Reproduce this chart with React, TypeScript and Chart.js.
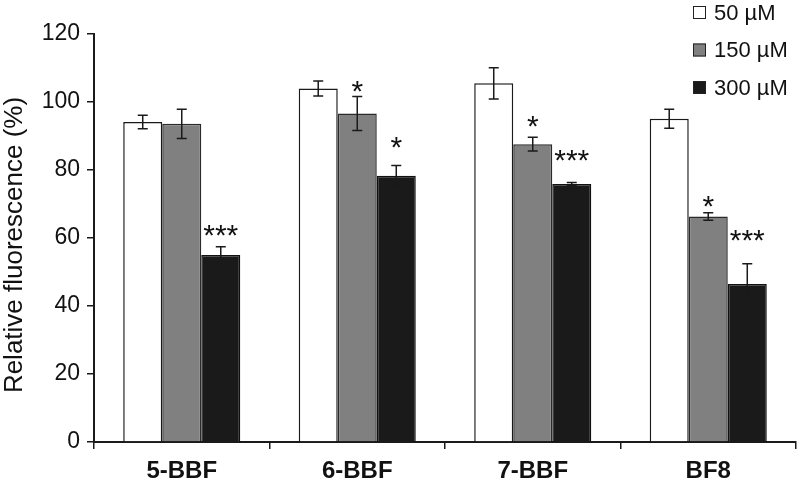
import React, { useEffect, useRef } from "react";
import { Chart, registerables } from "chart.js";

Chart.register(...registerables);

const categories = ["5-BBF", "6-BBF", "7-BBF", "BF8"];
const seriesNames = ["50 µM", "150 µM", "300 µM"];
const yTitle = "Relative fluorescence (%)";
const values50 = [94.1, 104.0, 105.5, 95.1];
const errors50 = [2.0, 2.2, 4.6, 2.8];
const values150 = [93.6, 96.6, 87.6, 66.3];
const errors150 = [4.3, 5.0, 2.0, 1.1];
const values300 = [55.0, 78.3, 75.9, 46.5];
const errors300 = [2.4, 3.0, 0.4, 5.9];
const sig50 = ["", "", "", ""];
const sigPos50: (number | null)[] = [null, null, null, null];
const sig150 = ["", "*", "*", "*"];
const sigPos150: (number | null)[] = [null, 105.2, 95.1, 71.6];
const sig300 = ["***", "*", "***", "***"];
const sigPos300: (number | null)[] = [63.0, 88.9, 84.9, 61.6];
const yTicks = [0, 20, 40, 60, 80, 100, 120];

const FONT = "'Liberation Sans', Arial, Helvetica, sans-serif";
const fills = ["#ffffff", "#808080", "#1a1a1a"];
const borders = ["#1a1a1a", "#2a2a2a", "#111111"];

const errorsAll = [errors50, errors150, errors300];
const sigAll = [sig50, sig150, sig300];
const sigPosAll = [sigPos50, sigPos150, sigPos300];

const overlayPlugin = {
  id: "overlay",
  afterDatasetsDraw(chart: any) {
    const ctx = chart.ctx;
    const yScale = chart.scales.y;
    ctx.save();
    chart.data.datasets.forEach((ds: any, di: number) => {
      const meta = chart.getDatasetMeta(di);
      meta.data.forEach((bar: any, i: number) => {
        const v = ds.data[i];
        const e = errorsAll[di][i];
        const yTop = yScale.getPixelForValue(v + e);
        const yBot = yScale.getPixelForValue(v - e);
        ctx.strokeStyle = "#1a1a1a";
        ctx.lineWidth = 1.5;
        ctx.beginPath();
        ctx.moveTo(bar.x, yTop);
        ctx.lineTo(bar.x, yBot);
        ctx.moveTo(bar.x - 5, yTop);
        ctx.lineTo(bar.x + 5, yTop);
        ctx.moveTo(bar.x - 5, yBot);
        ctx.lineTo(bar.x + 5, yBot);
        ctx.stroke();
      });
    });
    ctx.fillStyle = "#111";
    ctx.font = `30px ${FONT}`;
    ctx.textAlign = "center";
    ctx.textBaseline = "alphabetic";
    chart.data.datasets.forEach((ds: any, di: number) => {
      const meta = chart.getDatasetMeta(di);
      meta.data.forEach((bar: any, i: number) => {
        const s = sigAll[di][i];
        const p = sigPosAll[di][i];
        if (!s || p == null) return;
        const cy = yScale.getPixelForValue(p);
        ctx.fillText(s, bar.x, cy + 17);
      });
    });
    ctx.restore();
  },
  afterDraw(chart: any) {
    const ctx = chart.ctx;
    const w = chart.width;
    const area = chart.chartArea;
    ctx.save();
    // y-axis title
    ctx.save();
    ctx.translate(15, (area.top + area.bottom) / 2 + 7);
    ctx.rotate(-Math.PI / 2);
    ctx.font = `26px ${FONT}`;
    ctx.fillStyle = "#111";
    ctx.textAlign = "center";
    ctx.textBaseline = "middle";
    ctx.fillText(yTitle, 0, 0);
    ctx.restore();
    // legend
    const boxX = w - 107;
    const textX = w - 86;
    const centers = [12.5, 50, 87.5];
    ctx.font = `22px ${FONT}`;
    ctx.textAlign = "left";
    ctx.textBaseline = "middle";
    seriesNames.forEach((name, i) => {
      const cy = centers[i];
      ctx.fillStyle = fills[i];
      ctx.fillRect(boxX, cy - 6.5, 13, 13);
      ctx.strokeStyle = "#222";
      ctx.lineWidth = 1;
      ctx.strokeRect(boxX + 0.5, cy - 6, 12, 12);
      ctx.fillStyle = "#111";
      ctx.fillText(name, textX, cy + 1);
    });
    ctx.restore();
  },
};

export default function App() {
  const ref = useRef<HTMLCanvasElement | null>(null);
  useEffect(() => {
    if (!ref.current) return;
    const datasets = [values50, values150, values300].map((vals, i) => ({
      label: seriesNames[i],
      data: vals,
      backgroundColor: fills[i],
      borderColor: borders[i],
      borderWidth: 1.5,
      categoryPercentage: 0.667,
      barPercentage: 1.0,
    }));
    const chart = new Chart(ref.current, {
      type: "bar",
      data: { labels: categories, datasets },
      options: {
        animation: false,
        responsive: false,
        devicePixelRatio: 1,
        layout: { padding: { top: 34, right: 4, bottom: 0, left: 0 } },
        plugins: { legend: { display: false }, tooltip: { enabled: false } },
        scales: {
          x: {
            grid: {
              display: true,
              drawOnChartArea: false,
              drawTicks: true,
              tickLength: 7,
              color: "#1a1a1a",
              lineWidth: 1.5,
              offset: true,
            },
            border: { display: true, color: "#1a1a1a", width: 2 },
            ticks: {
              color: "#111",
              font: { family: FONT, size: 24, weight: "bold" },
              padding: 8,
            },
            afterFit: (s: any) => {
              s.height = 40;
            },
          },
          y: {
            min: 0,
            max: 120,
            afterBuildTicks: (s: any) => {
              s.ticks = yTicks.map((v) => ({ value: v }));
            },
            grid: {
              display: true,
              drawOnChartArea: false,
              drawTicks: true,
              tickLength: 7,
              color: "#1a1a1a",
              lineWidth: 1.5,
            },
            border: { display: true, color: "#1a1a1a", width: 2 },
            ticks: {
              color: "#111",
              font: { family: FONT, size: 23 },
              padding: 7,
            },
            afterFit: (s: any) => {
              s.width = 94;
            },
          },
        },
      },
      plugins: [overlayPlugin],
    });
    return () => chart.destroy();
  }, []);
  return (
    <div style={{ position: "absolute", left: 0, top: 0, width: 800, height: 482, background: "#fff" }}>
      <canvas ref={ref} width={800} height={482} />
    </div>
  );
}
